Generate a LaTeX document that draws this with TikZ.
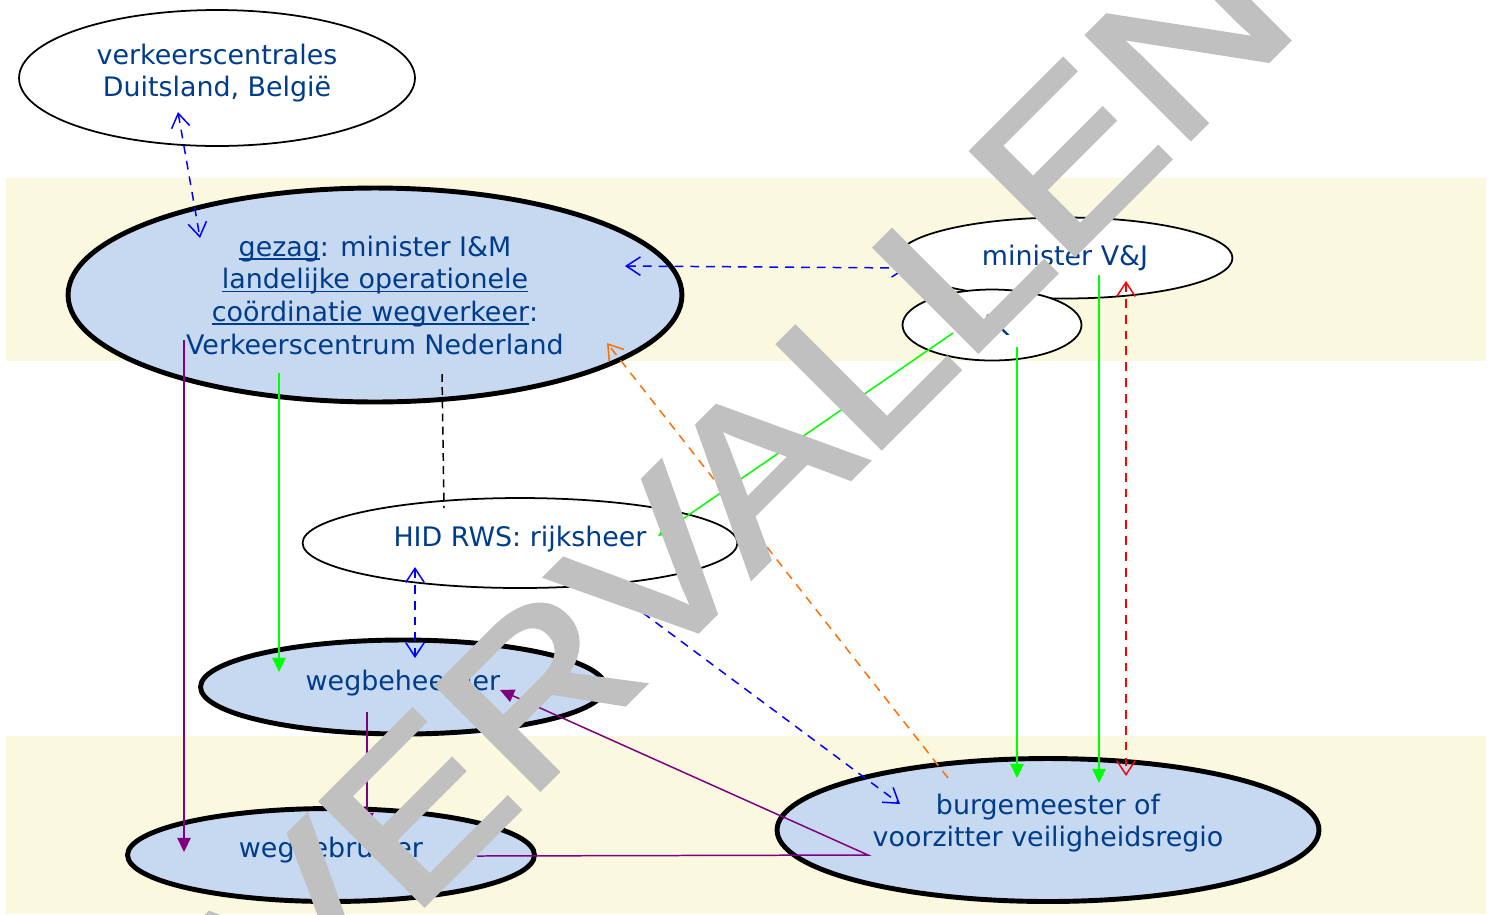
\documentclass[tikz,border=0pt]{standalone}
\usepackage{fontspec}
\setmainfont{DejaVu Sans}
\newfontfamily\wmfont[FakeBold=2.2]{Liberation Sans}
\usepackage{graphicx}
\newcommand\uln[1]{\leavevmode\setbox0\hbox{#1}\rlap{\rule[-2pt]{\wd0}{0.9pt}}\box0}
\newcommand\lifted[2]{\raisebox{#1}[\height][\depth]{\begin{tabular}{@{}c@{}}#2\end{tabular}}}
\usetikzlibrary{shapes.geometric,arrows.meta,calc}
\definecolor{bandyellow}{RGB}{250,248,222}
\definecolor{nodeblue}{RGB}{198,217,241}
\definecolor{textblue}{RGB}{0,60,140}
\definecolor{vgreen}{RGB}{0,255,0}
\definecolor{vpurple}{RGB}{128,0,128}
\definecolor{vorange}{RGB}{255,110,0}
\definecolor{wmgray}{RGB}{192,192,192}
\tikzset{vbarb/.tip={Straight Barb[length=8pt,width=10.5pt]},
  vtri/.tip={Triangle[length=8pt,width=7.5pt]}}
\begin{document}
\begin{tikzpicture}[x=0.02cm,y=-0.02cm,inner sep=0pt,outer sep=0pt,line width=0.85pt,
font=\fontsize{15.3pt}{18.6pt}\selectfont,
actor/.style={draw,ellipse,line width=1pt,fill=white,text=textblue,align=center},
kernactor/.style={actor,line width=2.8pt,fill=nodeblue},
infoline/.style={blue,dash pattern=on 5pt off 4pt,vbarb-vbarb},
gezagline/.style={vgreen,-vtri},
useline/.style={vpurple,-vtri}]
\useasboundingbox (0,0) rectangle (1490,914);
\clip (0,0) rectangle (1490,914);
% bands
\fill[bandyellow] (6,178) rectangle (1486,361);
\fill[bandyellow] (6,736) rectangle (1486,914);
% actors
\draw (217,78) node[actor,minimum width=7.92cm,minimum height=2.72cm] (vkc) {\lifted{2.3pt}{verkeerscentrales\\Duitsland, België}};
\draw (375,295) node[kernactor,minimum width=12.28cm,minimum height=4.28cm] (vcnl)
  {\uln{gezag}: minister I\&M\\\uln{landelijke operationele}\\\uln{coördinatie wegverkeer}:\\Verkeerscentrum Nederland};
\draw (1065,258) node[actor,minimum width=6.7cm,minimum height=1.62cm] (minvj) {minister V\&J};
\draw (992,325) node[actor,minimum width=3.58cm,minimum height=1.42cm] (dk) {dK};
\draw (520,543) node[actor,minimum width=8.7cm,minimum height=1.8cm] (hid) {\lifted{1.7pt}{HID RWS: rijksheer}};
\draw (403,687) node[kernactor,minimum width=8.1cm,minimum height=1.88cm] (wbh) {\lifted{1.7pt}{wegbeheerder}};
\draw (331,855) node[kernactor,minimum width=8.14cm,minimum height=1.86cm] (wgb) {\lifted{2.3pt}{weggebruiker}};
\draw (1048,830) node[kernactor,minimum width=10.84cm,minimum height=2.86cm] (bgm) {\lifted{3.4pt}{burgemeester of\\voorzitter veiligheidsregio}};
% connectors
\draw[infoline] ($(vkc)+(-39,34)$) -- ($(vcnl)+(-175,-57)$);
\draw[infoline] ($(vcnl)+(250,-29)$) -- ($(minvj)+(-158,10)$);
\draw[dash pattern=on 4.5pt off 3pt] ($(vcnl)+(67,79)$) -- ($(hid)+(-76,-35)$);
\draw[gezagline] ($(vcnl)+(-96,78)$) -- ($(wbh)+(-124,-15)$);
\draw[useline] ($(vcnl)+(-191,45)$) -- ($(wgb)+(-147,-3)$);
\draw[infoline] ($(hid)+(-105,24)$) -- ($(wbh)+(12,-29)$);
\draw[infoline,-vbarb] ($(hid)+(72,32)$) -- ($(bgm)+(-148,-26)$);
\draw[vorange,dash pattern=on 5pt off 4pt,-vbarb] ($(bgm)+(-100,-52)$) -- ($(vcnl)+(232,48)$);
\draw[gezagline] ($(dk)+(-39,8)$) -- ($(hid)+(138,-7)$);
\draw[gezagline] ($(dk)+(25,22)$) -- ($(bgm)+(-31,-52)$);
\draw[gezagline] ($(minvj)+(34,17)$) -- ($(bgm)+(51,-47)$);
\draw[infoline,red] ($(minvj)+(61,23)$) -- ($(bgm)+(78,-54)$);
\draw[useline] ($(wbh)+(-36,25)$) -- ($(wgb)+(36,-28)$);
\draw[useline,vtri-] ($(wbh)+(97,3)$) -- ($(bgm)+(-180,25)$) -- ($(wgb)+(146,1)$);
% watermark
\node[rotate=45,text=wmgray,font=\wmfont\fontsize{120.6pt}{120pt}\selectfont] (wm) at (747,479) {\scalebox{1.16}[1]{VERVALLEN}};
\end{tikzpicture}
\end{document}
